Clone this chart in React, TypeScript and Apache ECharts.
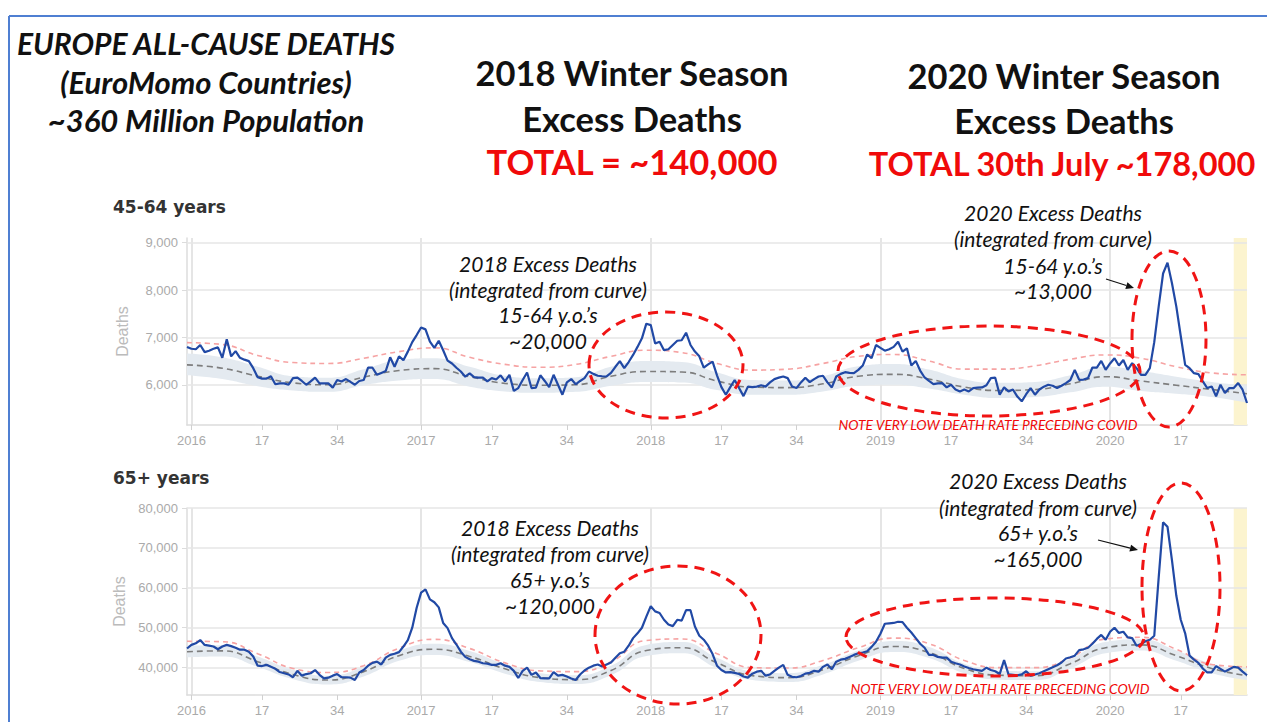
import React, { useEffect, useRef } from 'react';
import * as echarts from 'echarts';

// ---------- categories (ISO weeks) ----------
const FIRST_WEEK = '2015-W53';
const YEAR_SPANS: [number, number][] = [[2016, 52], [2017, 52], [2018, 52], [2019, 52], [2020, 32]];
const LABEL_WEEKS = [1, 17, 34];
const SHADED_FROM = '2020-W29';
const SHADED_TO = '2020-W32';

const CATEGORIES: string[] = [FIRST_WEEK];
YEAR_SPANS.forEach(([y, n]) => {
  for (let w = 1; w <= n; w++) CATEGORIES.push(`${y}-W${String(w).padStart(2, '0')}`);
});

// ---------- weekly deaths, 45-64 years ----------
const DEATHS_45_64 = [
  6800, 6760, 6750, 6840, 6690, 6720, 6760, 6790, 6570, 6960,
  6600, 6710, 6570, 6530, 6500, 6350, 6160, 6130, 6130, 6180,
  6010, 6030, 6030, 6000, 6140, 6150, 6080, 6000, 6070, 6150,
  6030, 6030, 6030, 5940, 6100, 6070, 6120, 6060, 6000, 6080,
  6100, 6360, 6360, 6210, 6250, 6290, 6580, 6380, 6600, 6520,
  6700, 6900, 7050, 7210, 7170, 6910, 6780, 6930, 6730, 6510,
  6450, 6360, 6280, 6170, 6240, 6160, 6150, 6150, 6070, 6140,
  6110, 6200, 6070, 6210, 5870, 5930, 6100, 6260, 5930, 5940,
  6200, 6080, 5950, 6210, 6000, 5790, 6050, 6120, 6010, 6080,
  6140, 6280, 6230, 6190, 6180, 6175, 6250, 6380, 6500, 6350,
  6480, 6630, 6800, 6980, 7290, 7260, 6870, 6910, 6730, 6750,
  6840, 6930, 6940, 7100, 6840, 6700, 6600, 6360, 6430, 6490,
  6200, 5950, 5790, 5950, 6100, 5930, 5760, 5960, 5950, 5960,
  5990, 5960, 6050, 6120, 6150, 6175, 6140, 5965, 5930, 6050,
  6150, 6056, 6120, 6175, 6190, 6050, 5944, 6175, 6230, 6266,
  6250, 6245, 6315, 6406, 6640, 6560, 6840, 6780, 6720, 6750,
  6800, 6910, 6700, 6770, 6406, 6504, 6300, 6154, 6080, 6014,
  6030, 6035, 5944, 6000, 5900, 5860, 5900, 5860, 5930, 5940,
  5944, 5990, 6140, 6150, 5790, 5944, 5860, 5900, 5750, 5650,
  5800, 5930, 5790, 5900, 5960, 6000, 5980, 5930, 5980, 6035,
  6100, 6315, 6105, 6110, 6140, 6364, 6364, 6504, 6315, 6450,
  6560, 6406, 6524, 6315, 6455, 6350, 6210, 6210, 6350, 6900,
  7650, 8350, 8580, 8150, 7650, 7030, 6420, 6350, 6245, 6224,
  6070, 5930, 5965, 5755, 6000, 5825, 5930, 5930, 6035, 5895,
  5615,
];

// ---------- weekly deaths, 65+ years ----------
const DEATHS_65 = [
  44800, 45700, 46100, 46900, 45700, 45500, 45300, 44600, 45300, 45700,
  45400, 45000, 44500, 44500, 44000, 42800, 40500, 40400, 40700, 40200,
  39700, 38900, 38600, 38300, 37600, 39200, 38000, 38400, 38600, 39400,
  38200, 37300, 37500, 38000, 38400, 37600, 37600, 37500, 36900, 38800,
  39400, 40500, 41200, 41500, 40800, 42500, 43200, 43500, 43900, 45300,
  46900, 50000, 55000, 58800, 59600, 57100, 56400, 55100, 51200, 49900,
  47400, 45800, 44000, 42700, 42100, 41700, 41500, 41100, 41000, 40700,
  40700, 41100, 40500, 40200, 39200, 37400, 39200, 40000, 38200, 38800,
  37400, 37300, 37300, 38900, 38000, 38200, 37800, 37300, 36900, 38300,
  39300, 40000, 40500, 40800, 40300, 40800, 41300, 42500, 43600, 44000,
  45500, 47400, 48600, 50000, 52800, 55400, 54100, 53700, 52000, 50800,
  50400, 52000, 51800, 54400, 54400, 50300, 48000, 47000, 45500, 43400,
  40500, 39400, 38800, 38900, 38700, 38400, 37800, 37500, 38500, 39000,
  39200, 38000, 38300, 39200, 40000, 40700, 38200, 37700, 37600, 37900,
  38500, 38700, 39200, 39000, 40200, 40800, 39600, 41500, 42000, 42200,
  42700, 43200, 43600, 43800, 44100, 45200, 46500, 48500, 51000, 51100,
  51200, 51500, 51400, 50000, 48800, 47400, 46000, 45000, 43200, 43200,
  42700, 42500, 42500, 41500, 41100, 40800, 40300, 39900, 39600, 39400,
  39200, 40000, 39400, 39100, 38400, 41900, 38300, 38200, 38100, 38300,
  39100, 38000, 38300, 38600, 39100, 39600, 40100, 40600, 41300, 42300,
  42600, 43000, 44400, 44600, 45000, 46000, 47200, 48200, 47000, 49000,
  50000, 48700, 49000, 47600, 47400, 45500, 45900, 46600, 47000, 48000,
  62500, 76400, 75300, 67000, 58000, 52000, 48600, 43000, 42000, 41200,
  39800, 38800, 38800, 40400, 39700, 39000, 39600, 40200, 40000, 39000,
  38100,
];

// ---------- baselines, read every 8 weeks ----------
const KNOTS = [0, 8, 16, 24, 32, 40, 48, 56, 64, 72, 80, 88, 96, 104, 112, 120, 128, 136, 144, 152, 160, 168, 176, 184, 192, 200, 208, 216, 224, 232, 240];

const BASE_45_64 = [6420, 6350, 6180, 6040, 6000, 6160, 6300, 6340, 6170, 6030, 5990, 6000, 6180, 6280, 6270, 6080, 5950, 5940, 6020, 6180, 6220, 6120, 5950, 5880, 5900, 6020, 6170, 6080, 5990, 5900, 5810];
const BAND_HIGH_45_64 = [6660, 6580, 6380, 6180, 6150, 6330, 6520, 6560, 6380, 6190, 6140, 6160, 6380, 6500, 6480, 6260, 6100, 6090, 6180, 6390, 6440, 6320, 6110, 6040, 6060, 6200, 6380, 6290, 6170, 6060, 5980];
const BAND_LOW_45_64 = [6200, 6120, 5970, 5880, 5850, 5990, 6090, 6120, 5960, 5860, 5830, 5850, 5980, 6060, 6050, 5890, 5790, 5790, 5860, 5980, 6000, 5920, 5790, 5720, 5740, 5840, 5960, 5870, 5810, 5740, 5620];
const THRESH_45_64 = [6890, 6850, 6620, 6470, 6450, 6560, 6700, 6780, 6580, 6430, 6370, 6430, 6600, 6730, 6680, 6450, 6310, 6330, 6450, 6600, 6640, 6500, 6330, 6330, 6400, 6540, 6630, 6560, 6380, 6250, 6210];

const BASE_65 = [44000, 44200, 41500, 38300, 36900, 39000, 43000, 44600, 42800, 39700, 37500, 37000, 39300, 44300, 45000, 41200, 38000, 37500, 39500, 43000, 45300, 43800, 39800, 38100, 38000, 41000, 45000, 45700, 43000, 39800, 38000];
const BAND_HIGH_65 = [45500, 45600, 42800, 39500, 38000, 40200, 44300, 46000, 44200, 40900, 38600, 38100, 40500, 45700, 46400, 42500, 39100, 38600, 40700, 44300, 46700, 45200, 41000, 39200, 39100, 42200, 46400, 47100, 44300, 41000, 39100];
const BAND_LOW_65 = [42600, 42800, 40200, 37100, 35800, 37800, 41700, 43200, 41400, 38500, 36400, 35900, 38100, 42900, 43600, 39900, 36900, 36400, 38300, 41700, 43900, 42400, 38600, 37000, 36900, 39800, 43600, 44300, 41700, 38600, 36900];
const THRESH_65 = [46600, 46500, 43500, 39800, 38800, 40500, 44900, 47100, 44800, 41200, 39200, 39000, 41500, 46800, 47200, 43500, 40000, 39900, 41800, 45000, 47400, 46000, 41800, 40000, 40000, 42500, 47200, 47600, 44600, 40800, 40200];

// ---------- axis ticks ----------
const Y_TICKS_45_64 = [6000, 7000, 8000, 9000];
const Y_TICKS_65 = [40000, 50000, 60000, 70000, 80000];

const FONT = 'Lato';
const AXIS_FONT = 'Liberation Sans';

const weekOf = (c: string) => Number(c.split('-W')[1]);
const labelInterval = (_i: number, v: string) => v !== FIRST_WEEK && LABEL_WEEKS.includes(weekOf(v));
const yearInterval = (_i: number, v: string) => v !== FIRST_WEEK && weekOf(v) === 1;
const xFormatter = (v: string) => (weekOf(v) === 1 ? v.split('-W')[0] : String(weekOf(v)));
const pairs = (arr: number[]) => KNOTS.map((k, i) => [k, arr[i]]);

function buildSeries(g: number, deaths: number[], base: number[], low: number[], high: number[], thr: number[], ticks: number[]) {
  const common = { xAxisIndex: g, yAxisIndex: g, type: 'line', symbol: 'none', silent: true };
  return [
    { ...common, name: `low${g}`, data: pairs(low), stack: `band${g}`, smooth: true, lineStyle: { opacity: 0 }, z: 2 },
    {
      ...common, name: `band${g}`, data: KNOTS.map((k, i) => [k, high[i] - low[i]]), stack: `band${g}`, smooth: true,
      lineStyle: { opacity: 0 }, areaStyle: { color: '#e4eaf0', opacity: 1 }, z: 2,
    },
    { ...common, name: `base${g}`, data: pairs(base), smooth: true, lineStyle: { color: '#7d7d7d', width: 1.6, type: [6, 4] }, z: 3 },
    { ...common, name: `thr${g}`, data: pairs(thr), smooth: true, lineStyle: { color: '#f6a3a3', width: 1.6, type: [5, 4] }, z: 3 },
    {
      ...common, name: `deaths${g}`, data: deaths, lineStyle: { color: '#2149a5', width: 2.2 }, z: 4,
      markLine: {
        silent: true, symbol: 'none', z: 1, label: { show: false },
        lineStyle: { color: '#e6e6e6', width: 1.5, type: 'solid' },
        data: ticks.map((t) => ({ yAxis: t })),
      },
      markArea: {
        silent: true, z: 1, itemStyle: { color: '#fcf4cf' },
        data: [[{ xAxis: SHADED_FROM }, { xAxis: SHADED_TO }]],
      },
    },
  ];
}

function xAxis(g: number) {
  return {
    type: 'category', gridIndex: g, data: CATEGORIES, boundaryGap: false,
    axisLine: { show: true, lineStyle: { color: '#dcdcdc', width: 1.5 } },
    axisTick: { show: true, interval: labelInterval, alignWithLabel: true, length: 5, lineStyle: { color: '#d0d0d0' } },
    axisLabel: { interval: labelInterval, formatter: xFormatter, color: '#aaaaaa', fontSize: 13, fontFamily: AXIS_FONT, margin: 9 },
    splitLine: { show: true, interval: yearInterval, lineStyle: { color: '#dcdcdc', width: 1.5 } },
  };
}

function yAxis(g: number, min: number, max: number, ticks: number[]) {
  return {
    type: 'value', gridIndex: g, min, max, name: 'Deaths', nameLocation: 'middle', nameGap: 57,
    nameTextStyle: { color: '#bbbbbb', fontSize: 16, fontFamily: AXIS_FONT },
    axisLine: { show: true, lineStyle: { color: '#dcdcdc', width: 1.5 } },
    axisTick: { show: true, customValues: ticks, length: 5, lineStyle: { color: '#dcdcdc' } },
    axisLabel: {
      customValues: ticks, color: '#aaaaaa', fontSize: 13, fontFamily: AXIS_FONT, margin: 9,
      formatter: (v: number) => v.toLocaleString('en-US'),
    },
    splitLine: { show: false },
  };
}

const txt = (text: string, x: number, y: number, size: number, opts: any = {}) => ({
  type: 'text', z: 100, x, y,
  style: {
    text, fontSize: size, fontFamily: opts.family || FONT, fontWeight: opts.weight || 'normal', fontStyle: opts.style || 'normal',
    fill: opts.color || '#111', align: opts.align || 'center', verticalAlign: 'middle',
  },
});

const ellipse = (cx: number, cy: number, rx: number, ry: number) => ({
  type: 'ellipse', z: 100, shape: { cx, cy, rx, ry },
  style: { fill: 'none', stroke: '#f01414', lineWidth: 3, lineDash: [10, 7] },
});

const arrow = (x1: number, y1: number, x2: number, y2: number) => {
  const dx = x2 - x1, dy = y2 - y1, L = Math.hypot(dx, dy);
  const ux = dx / L, uy = dy / L, bx = x2 - ux * 8, by = y2 - uy * 8, px = -uy * 3.5, py = ux * 3.5;
  return [
    { type: 'line', z: 100, shape: { x1, y1, x2: bx, y2: by }, style: { stroke: '#111', lineWidth: 1.2 } },
    { type: 'polygon', z: 100, shape: { points: [[x2, y2], [bx + px, by + py], [bx - px, by - py]] }, style: { fill: '#111' } },
  ];
};

function buildGraphics() {
  const RED = '#f00a0a';
  const A = 21;
  const H = 34.5;
  return [
    { type: 'line', z: 100, shape: { x1: 9, y1: 16, x2: 1267, y2: 16 }, style: { stroke: '#4f7fd2', lineWidth: 2 } },
    { type: 'line', z: 100, shape: { x1: 9, y1: 16, x2: 9, y2: 722 }, style: { stroke: '#4f7fd2', lineWidth: 2 } },
    txt('EUROPE ALL-CAUSE DEATHS', 206, 43, 30, { weight: 'bold', style: 'italic' }),
    txt('(EuroMomo Countries)', 206, 82, 31, { weight: 'bold', style: 'italic' }),
    txt('~360 Million Population', 206, 120, 31, { weight: 'bold', style: 'italic' }),
    txt('2018 Winter Season', 632, 72, H, { weight: 'bold' }),
    txt('Excess Deaths', 632, 118, H, { weight: 'bold' }),
    txt('TOTAL = ~140,000', 632, 161, H, { weight: 'bold', color: RED }),
    txt('2020 Winter Season', 1064, 75, H, { weight: 'bold' }),
    txt('Excess Deaths', 1064, 120, H, { weight: 'bold' }),
    txt('TOTAL 30th July ~178,000', 1062, 163, 32.5, { weight: 'bold', color: RED }),
    txt('45-64 years', 113, 207, 17, { weight: 'bold', align: 'left', color: '#333', family: 'DejaVu Sans' }),
    txt('65+ years', 113, 478, 17, { weight: 'bold', align: 'left', color: '#333', family: 'DejaVu Sans' }),
    txt('2018 Excess Deaths', 548, 263, A, { style: 'italic' }),
    txt('(integrated from curve)', 548, 289, A, { style: 'italic' }),
    txt('15-64 y.o.’s', 548, 314, A, { style: 'italic' }),
    txt('~20,000', 548, 340, A, { style: 'italic' }),
    txt('2020 Excess Deaths', 1053, 212, A, { style: 'italic' }),
    txt('(integrated from curve)', 1053, 238, A, { style: 'italic' }),
    txt('15-64 y.o.’s', 1053, 265, A, { style: 'italic' }),
    txt('~13,000', 1053, 290, A, { style: 'italic' }),
    txt('2018 Excess Deaths', 550, 527, A, { style: 'italic' }),
    txt('(integrated from curve)', 550, 553, A, { style: 'italic' }),
    txt('65+ y.o.’s', 550, 579, A, { style: 'italic' }),
    txt('~120,000', 550, 605, A, { style: 'italic' }),
    txt('2020 Excess Deaths', 1038, 480, A, { style: 'italic' }),
    txt('(integrated from curve)', 1038, 507, A, { style: 'italic' }),
    txt('65+ y.o.’s', 1038, 532, A, { style: 'italic' }),
    txt('~165,000', 1038, 558, A, { style: 'italic' }),
    txt('NOTE VERY LOW DEATH RATE PRECEDING COVID', 988, 424, 13.8, { style: 'italic', color: RED }),
    txt('NOTE VERY LOW DEATH RATE PRECEDING COVID', 1000, 688, 13.8, { style: 'italic', color: RED }),
    ...arrow(1106, 279, 1134, 288),
    ...arrow(1098, 540, 1138, 550),
    ellipse(666, 365, 77, 53),
    ellipse(989, 371, 151, 45),
    ellipse(1169, 339, 37, 88),
    ellipse(678, 635, 83, 69),
    ellipse(995, 637, 149, 39),
    ellipse(1181, 587, 39, 104),
  ];
}

export default function App() {
  const ref = useRef<HTMLDivElement>(null);
  useEffect(() => {
    if (!ref.current) return;
    const chart = echarts.init(ref.current, null, { renderer: 'svg' });
    chart.setOption({
      animation: false,
      backgroundColor: '#ffffff',
      grid: [
        { left: 187, right: 20, top: 238, height: 187 },
        { left: 187, right: 20, top: 508, height: 187 },
      ],
      xAxis: [xAxis(0), xAxis(1)],
      yAxis: [yAxis(0, 5150, 9100, Y_TICKS_45_64), yAxis(1, 33150, 80000, Y_TICKS_65)],
      series: [
        ...buildSeries(0, DEATHS_45_64, BASE_45_64, BAND_LOW_45_64, BAND_HIGH_45_64, THRESH_45_64, Y_TICKS_45_64),
        ...buildSeries(1, DEATHS_65, BASE_65, BAND_LOW_65, BAND_HIGH_65, THRESH_65, Y_TICKS_65),
      ],
      graphic: buildGraphics(),
    });
    return () => chart.dispose();
  }, []);
  return (
    <div
      ref={ref}
      style={{ position: 'absolute', left: 0, top: 0, width: 1267, height: 722, background: '#fff' }}
    />
  );
}
